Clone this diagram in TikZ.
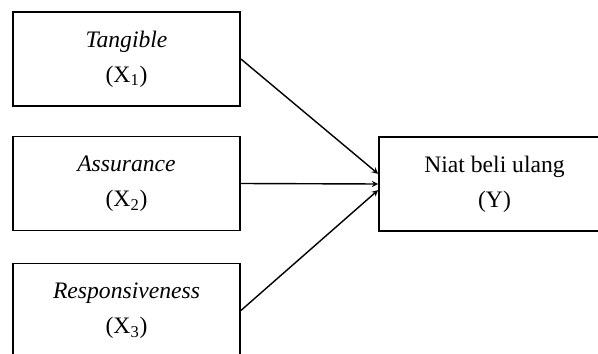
\documentclass[tikz,border=0pt]{standalone}
\usepackage{fontspec}
\setmainfont{Liberation Serif}
\usepackage{tikz}
\usetikzlibrary{positioning}

\begin{document}
\begin{tikzpicture}[
  x=0.025cm, y=-0.025cm,
  every node/.style={rectangle,draw,line width=1.2pt,align=center,
    minimum width=5.675cm,minimum height=2.35cm,
    font=\fontsize{16.8}{25}\selectfont},
  ->, >=stealth
]
  \clip (0,0) rectangle (598,354);

  \node (x1) at (126.5,59)    {\textit{Tangible}\\(X\textsubscript{1})};
  \node (x2) at (126.5,183.5) {\textit{Assurance}\\(X\textsubscript{2})};
  \node (x3) at (126.5,310.5) {\textit{Responsiveness}\\(X\textsubscript{3})};
  \node[minimum width=5.775cm] (y) at (494.5,184) {Niat beli ulang\\(Y)};

  \draw[line width=1pt] (x1.east)--(y.175.5);
  \draw[line width=1pt] (x2.east)--(y.west);
  \draw[line width=1pt] (x3.east)--(y.183);
\end{tikzpicture}
\end{document}
